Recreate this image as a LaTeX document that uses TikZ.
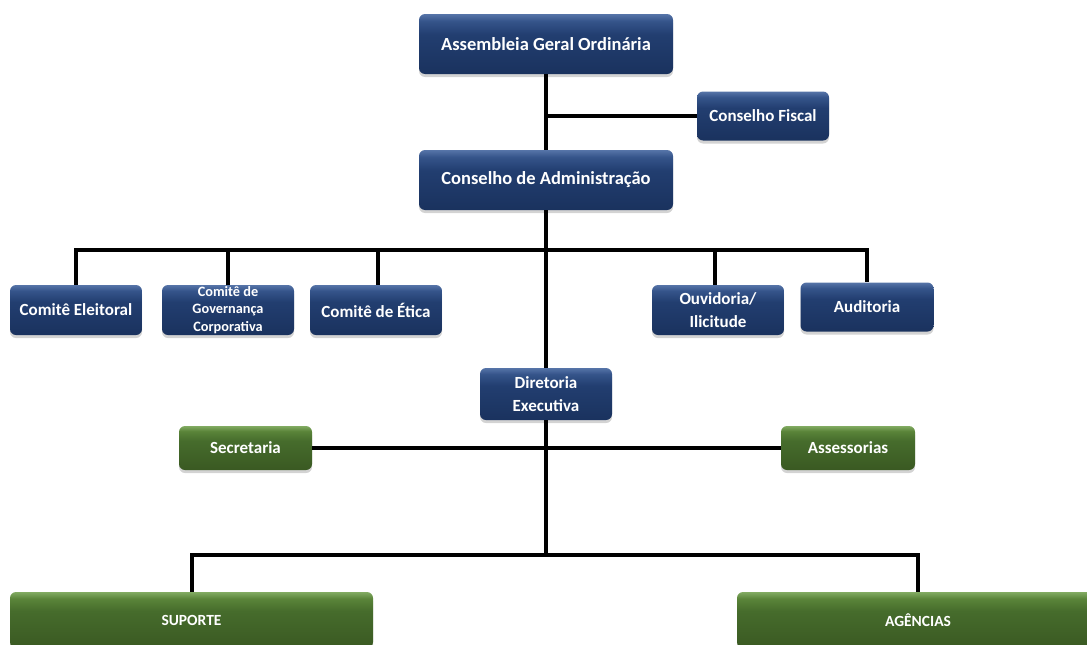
\documentclass[tikz,border=0pt]{standalone}
\usepackage{fontspec}
\setmainfont{Carlito}
\usetikzlibrary{shadows}
\definecolor{bTop}{HTML}{5674A8}
\definecolor{bLight}{HTML}{35548A}
\definecolor{bMid}{HTML}{223E70}
\definecolor{bBot}{HTML}{1A325E}
\definecolor{gTop}{HTML}{82AB62}
\definecolor{gLight}{HTML}{5A8439}
\definecolor{gMid}{HTML}{466C2C}
\definecolor{gBot}{HTML}{3A5922}
\pgfdeclareverticalshading{blueglass}{100bp}{color(0bp)=(bBot); color(25bp)=(bBot); color(58bp)=(bMid); color(69bp)=(bLight); color(75bp)=(bTop); color(100bp)=(bTop)}
\pgfdeclareverticalshading{greenglass}{100bp}{color(0bp)=(gBot); color(25bp)=(gBot); color(58bp)=(gMid); color(69bp)=(gLight); color(75bp)=(gTop); color(100bp)=(gTop)}
\tikzset{
  box/.style={rounded corners=6pt, draw=none, text=white,
    align=center, inner sep=2pt,
    drop shadow={opacity=0.35, shadow xshift=0pt, shadow yshift=-3pt}},
  bluebox/.style={box, shading=blueglass},
  greenbox/.style={box, shading=greenglass},
  link/.style={line width=4pt, black},
  fbig/.style={font=\bfseries\fontsize{18.5}{22}\selectfont},
  fmid/.style={font=\bfseries\fontsize{17}{23.5}\selectfont},
  fsmall/.style={font=\bfseries\fontsize{14.3}{17.5}\selectfont},
  fcap/.style={font=\bfseries\fontsize{15.5}{18}\selectfont}
}
\begin{document}
\begin{tikzpicture}[x=1pt,y=-1pt]
\useasboundingbox (0,0) rectangle (1087,645);
\clip (0,0) rectangle (1087,645);
% nodes
\node[bluebox, fbig, minimum width=254pt, minimum height=60pt] (AGO) at (546,44) {Assembleia Geral Ordinária};
\node[bluebox, fmid, minimum width=132pt, minimum height=49pt] (CF) at (763,116) {Conselho Fiscal};
\node[bluebox, fbig, minimum width=254pt, minimum height=60pt] (CA) at (546,180) {Conselho de Administração};
\node[bluebox, fmid, minimum width=132pt, minimum height=50pt] (CE) at (76,310) {Comitê Eleitoral};
\node[bluebox, fsmall, minimum width=132pt, minimum height=50pt, inner sep=0pt] (CG) at (228,310) {Comitê de\\Governança\\Corporativa};
\node[bluebox, fmid, minimum width=132pt, minimum height=50pt] (CET) at (376,310) {Comitê de Ética};
\node[bluebox, fmid, minimum width=132pt, minimum height=50pt] (OU) at (718,310) {Ouvidoria/\\Ilicitude};
\node[bluebox, fmid, minimum width=133pt, minimum height=49pt] (AU) at (867,307) {Auditoria};
\node[bluebox, fmid, minimum width=132pt, minimum height=52pt] (DE) at (546,394) {Diretoria\\Executiva};
\node[greenbox, fmid, minimum width=133pt, minimum height=44pt] (SE) at (245.5,448) {Secretaria};
\node[greenbox, fmid, minimum width=134pt, minimum height=44pt] (AS) at (848,448) {Assessorias};
\node[greenbox, fcap, minimum width=363pt, minimum height=56pt] (SU) at (191.5,620) {SUPORTE};
\node[greenbox, fcap, minimum width=362pt, minimum height=56pt] (AG) at (918,620) {AGÊNCIAS};
% junctions
\coordinate (hb) at (546,250);
\coordinate (j5) at (546,555);
% connectors
\draw[link] (AGO.south) -- (CA.north);
\draw[link] (CF.west) -- (CF.west -| AGO.south);
\draw[link] (CE.north) |- (AU.north |- hb) -- (AU.north);
\draw[link] (CG.north) -- (CG.north |- hb);
\draw[link] ([xshift=2pt]CET.north) -- ([xshift=2pt]CET.north |- hb);
\draw[link] ([xshift=-3pt]OU.north) -- ([xshift=-3pt]OU.north |- hb);
\draw[link] (CA.south) -- (DE.north);
\draw[link] (DE.south) -- (j5);
\draw[link] (SE.east) -- (AS.west);
\draw[link] (SU.north) |- (j5) -| (AG.north);
\end{tikzpicture}
\end{document}
